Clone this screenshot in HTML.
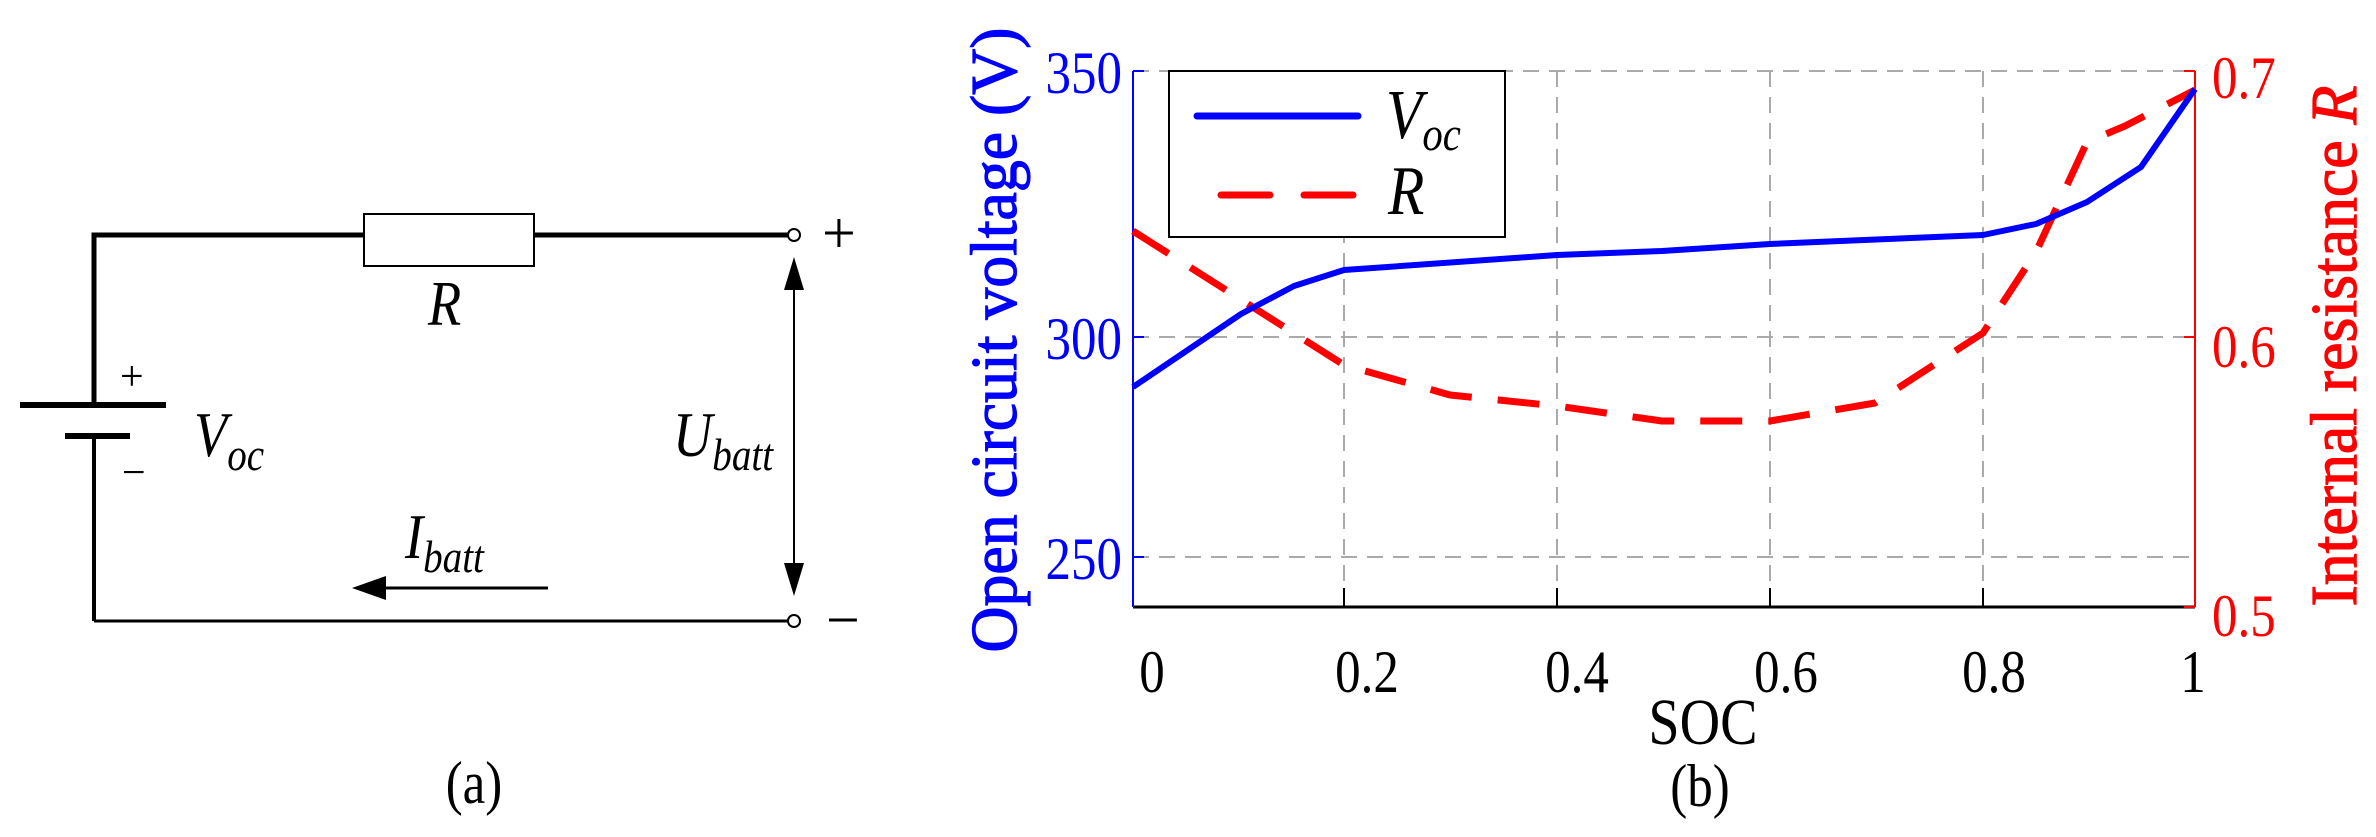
<!DOCTYPE html>
<html><head><meta charset="utf-8"><style>
html,body{margin:0;padding:0;background:#fff;}
svg{display:block;}
svg text{font-family:"Liberation Serif","DejaVu Serif","Times New Roman",serif;}
</style></head><body>
<svg width="2376" height="837" viewBox="0 0 2376 837" xmlns="http://www.w3.org/2000/svg" font-family="'Liberation Serif', 'DejaVu Serif', serif">
<!-- Circuit (a) -->
<g stroke="#000" fill="none">
<polyline points="94,405 94,235 364,235" stroke-width="5"/>
<line x1="534" y1="235" x2="788" y2="235" stroke-width="5"/>
<rect x="364" y="214" width="170" height="52" stroke-width="2" fill="#fff"/>
<line x1="94" y1="436" x2="94" y2="621" stroke-width="4"/>
<line x1="94" y1="621" x2="788" y2="621" stroke-width="3"/>
<line x1="20" y1="405" x2="166" y2="405" stroke-width="6"/>
<line x1="65" y1="436" x2="130" y2="436" stroke-width="6"/>
<circle cx="794" cy="235" r="6" stroke-width="2" fill="#fff"/>
<circle cx="794" cy="621" r="6" stroke-width="2" fill="#fff"/>
<line x1="794" y1="275" x2="794" y2="578" stroke-width="2"/>
<line x1="380" y1="588" x2="548" y2="588" stroke-width="3"/>
</g>
<polygon points="794,257 784,290 804,290" fill="#000"/>
<polygon points="794,596 784,563 804,563" fill="#000"/>
<polygon points="352,588 386,576 386,600" fill="#000"/>
<g fill="#000" font-size="64">
<text x="822" y="253" font-size="60">+</text>
<text x="826" y="640" font-size="60">−</text>
<text x="120" y="390" font-size="42">+</text>
<text x="122" y="486" font-size="42">−</text>
<text x="428" y="325" font-style="italic" transform="translate(428,0) scale(0.85,1) translate(-428,0)">R</text>
<text x="194" y="456" font-style="italic" transform="translate(194,0) scale(0.85,1) translate(-194,0)">V<tspan font-size="46" dy="14">oc</tspan></text>
<text x="673" y="456" font-style="italic" transform="translate(673,0) scale(0.85,1) translate(-673,0)">U<tspan font-size="46" dy="14">batt</tspan></text>
<text x="405" y="558" font-style="italic" transform="translate(405,0) scale(0.85,1) translate(-405,0)">I<tspan font-size="46" dy="14">batt</tspan></text>
<text x="474" y="803" font-size="60" text-anchor="middle" transform="translate(474,0) scale(0.85,1) translate(-474,0)">(a)</text>
</g>

<!-- Chart (b) grid -->
<g stroke="#aaa" stroke-width="2" stroke-dasharray="16,10" fill="none">
<line x1="1344" y1="71" x2="1344" y2="607"/>
<line x1="1557" y1="71" x2="1557" y2="607"/>
<line x1="1770" y1="71" x2="1770" y2="607"/>
<line x1="1983" y1="71" x2="1983" y2="607"/>
<line x1="1133" y1="71" x2="2195" y2="71"/>
<line x1="1133" y1="337" x2="2195" y2="337"/>
<line x1="1133" y1="557" x2="2195" y2="557"/>
</g>
<line x1="1133" y1="607" x2="2195" y2="607" stroke="#000" stroke-width="3"/>
<g stroke="#000" stroke-width="2">
<line x1="1133" y1="607" x2="1133" y2="588"/>
<line x1="1344" y1="607" x2="1344" y2="588"/>
<line x1="1557" y1="607" x2="1557" y2="588"/>
<line x1="1770" y1="607" x2="1770" y2="588"/>
<line x1="1983" y1="607" x2="1983" y2="588"/>
</g>
<line x1="1133" y1="71" x2="1133" y2="607" stroke="#00f" stroke-width="2"/>
<g stroke="#00f" stroke-width="2"><line x1="1133" y1="71" x2="1144" y2="71"/><line x1="1133" y1="337" x2="1144" y2="337"/><line x1="1133" y1="557" x2="1144" y2="557"/></g>
<line x1="2195" y1="71" x2="2195" y2="607" stroke="#f00" stroke-width="2"/>
<g stroke="#f00" stroke-width="2"><line x1="2184" y1="71" x2="2195" y2="71"/><line x1="2184" y1="337" x2="2195" y2="337"/><line x1="2184" y1="607" x2="2195" y2="607"/></g>

<polyline fill="none" stroke="#f00" stroke-width="7" stroke-dasharray="42,26" stroke-linejoin="round"
points="1133,231 1344,365 1450,395 1557,406 1662,421 1770,421 1875,403 1983,333 2036,252 2087,142 2125,126 2195,90"/>
<polyline fill="none" stroke="#00f" stroke-width="6" stroke-linejoin="round"
points="1133,387 1241,314 1294,286 1344,270 1557,255 1662,251 1770,244 1983,235 2036,224 2087,202 2141,167 2195,89"/>

<rect x="1169" y="71" width="336" height="166" fill="#fff" stroke="#000" stroke-width="2"/>
<line x1="1197" y1="116" x2="1358" y2="116" stroke="#00f" stroke-width="7" stroke-linecap="round"/>
<line x1="1221" y1="195" x2="1270" y2="195" stroke="#f00" stroke-width="7" stroke-linecap="round"/>
<line x1="1304" y1="195" x2="1353" y2="195" stroke="#f00" stroke-width="7" stroke-linecap="round"/>
<g font-size="70" font-style="italic" fill="#000">
<text x="1386" y="138" transform="translate(1386,0) scale(0.85,1) translate(-1386,0)">V<tspan font-size="48" dy="12">oc</tspan></text>
<text x="1388" y="214" transform="translate(1388,0) scale(0.85,1) translate(-1388,0)">R</text>
</g>

<g font-size="60" fill="#00f" text-anchor="end">
<text x="1122" y="93" transform="translate(1122,0) scale(0.85,1) translate(-1122,0)">350</text>
<text x="1122" y="359" transform="translate(1122,0) scale(0.85,1) translate(-1122,0)">300</text>
<text x="1122" y="579" transform="translate(1122,0) scale(0.85,1) translate(-1122,0)">250</text>
</g>
<g font-size="60" fill="#f00">
<text x="2212" y="98" transform="translate(2212,0) scale(0.85,1) translate(-2212,0)">0.7</text>
<text x="2212" y="367" transform="translate(2212,0) scale(0.85,1) translate(-2212,0)">0.6</text>
<text x="2212" y="636" transform="translate(2212,0) scale(0.85,1) translate(-2212,0)">0.5</text>
</g>
<g font-size="60" fill="#000" text-anchor="middle">
<text x="1152" y="692" transform="translate(1152,0) scale(0.85,1) translate(-1152,0)">0</text>
<text x="1367" y="692" transform="translate(1367,0) scale(0.85,1) translate(-1367,0)">0.2</text>
<text x="1577" y="692" transform="translate(1577,0) scale(0.85,1) translate(-1577,0)">0.4</text>
<text x="1786" y="692" transform="translate(1786,0) scale(0.85,1) translate(-1786,0)">0.6</text>
<text x="1994" y="692" transform="translate(1994,0) scale(0.85,1) translate(-1994,0)">0.8</text>
<text x="2193" y="692" transform="translate(2193,0) scale(0.85,1) translate(-2193,0)">1</text>
<text x="1703" y="744" font-size="66" transform="translate(1703,0) scale(0.85,1) translate(-1703,0)">SOC</text>
<text x="1700" y="806" transform="translate(1700,0) scale(0.85,1) translate(-1700,0)">(b)</text>
</g>
<text transform="translate(1016,340) rotate(-90)" text-anchor="middle" font-size="66" fill="#00f" stroke="#00f" stroke-width="1.2" textLength="625" lengthAdjust="spacingAndGlyphs">Open circuit voltage (V)</text>
<text transform="translate(2356,346) rotate(-90)" text-anchor="middle" font-size="66" fill="#f00" stroke="#f00" stroke-width="1.2" textLength="521" lengthAdjust="spacingAndGlyphs">Internal resistance <tspan font-style="italic">R</tspan></text>
</svg>
</body></html>
